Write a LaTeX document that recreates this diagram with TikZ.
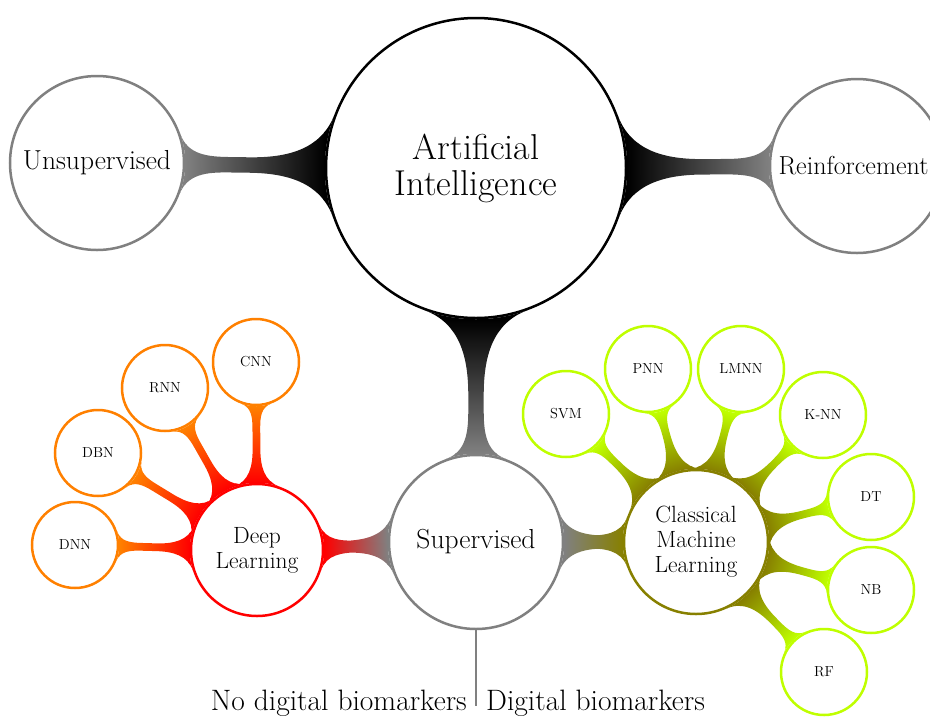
\documentclass[tikz,border=0pt]{standalone}
\usepackage{fontspec}
\usetikzlibrary{mindmap,backgrounds}
\definecolor{cgray}{RGB}{128,128,128}
\definecolor{clime}{RGB}{191,255,0}
\definecolor{corange}{RGB}{255,128,0}
\definecolor{cred}{RGB}{255,0,0}
\definecolor{colive}{RGB}{135,128,0}
\begin{document}
\begin{tikzpicture}[x=1pt,y=-1pt,
  bub/.style={circle, fill=white, line width=2.5pt, inner sep=0pt, align=center, text=black},
  rootc/.style={bub, draw=black, minimum size=300pt, font=\fontsize{36}{36}\selectfont},
  mainc/.style={bub, draw=cgray, minimum size=174pt, font=\fontsize{27.5}{30}\selectfont},
  dlc/.style={bub, draw=cred, minimum size=132pt, font=\fontsize{23.5}{25}\selectfont},
  cmlc/.style={bub, draw=colive, minimum size=144pt, font=\fontsize{23.5}{25}\selectfont},
  orleaf/.style={bub, draw=corange, minimum size=86pt, font=\fontsize{14.5}{16}\selectfont},
  limeleaf/.style={bub, draw=clime, minimum size=86pt, font=\fontsize{14.5}{16}\selectfont},
  bottomlbl/.style={font=\fontsize{29.5}{30}\selectfont, inner sep=0pt},
  leafbar/.style={line width=12pt}
]
\useasboundingbox (0,0) rectangle (930,716);
\node[rootc] (ai) at (476,168) {Artificial\\Intelligence};
\node[mainc] (uns) at (97,163) {Unsupervised};
\node[mainc] (rei) at (857,166) {};
\node[font=\fontsize{26}{30}\selectfont, inner sep=0pt] (reitext) at (853.5,166) {Reinforcement};
\node[mainc] (sup) at (476,542) {Supervised};
\node[dlc] (dl) at (257,550) {Deep\\Learning};
\node[cmlc] (cml) at (696,542) {Classical\\Machine\\Learning};
\node[orleaf] (dnn) at (75,545) {DNN};
\node[orleaf] (dbn) at (98,453) {DBN};
\node[orleaf] (rnn) at (165,388) {RNN};
\node[orleaf] (cnn) at (256,362) {CNN};
\node[limeleaf] (svm) at (566,414) {SVM};
\node[limeleaf] (pnn) at (648,369) {PNN};
\node[limeleaf] (lmnn) at (741,369) {LMNN};
\node[limeleaf] (knn) at (823,415) {K-NN};
\node[limeleaf] (dt) at (871,497) {DT};
\node[limeleaf] (nb) at (871,590) {NB};
\node[limeleaf] (rf) at (824,672) {RF};
\coordinate (lineend) at (476,706);
\draw[cgray, line width=1.5pt] (sup.south) -- (lineend);
\node[bottomlbl, anchor=base east] (nodig) at (467,710) {No digital biomarkers};
\node[bottomlbl, anchor=base west] (dig) at (486,710) {Digital biomarkers};
\begin{scope}[on background layer]
\path (ai) to[circle connection bar switch color=from (black) to (cgray)] (uns);
\path (ai) to[circle connection bar switch color=from (black) to (cgray)] (rei);
\path (ai) to[circle connection bar switch color=from (black) to (cgray)] (sup);
\path (sup) to[circle connection bar switch color=from (cgray) to (cred)] (dl);
\path (sup) to[circle connection bar switch color=from (cgray) to (colive)] (cml);
\foreach \l in {dnn,dbn,rnn,cnn}
  \path (dl) to[circle connection bar switch color=from (cred) to (corange), leafbar] (\l);
\foreach \l in {svm,pnn,lmnn,knn,dt,nb,rf}
  \path (cml) to[circle connection bar switch color=from (colive) to (clime), leafbar] (\l);
\end{scope}
\end{tikzpicture}
\end{document}
